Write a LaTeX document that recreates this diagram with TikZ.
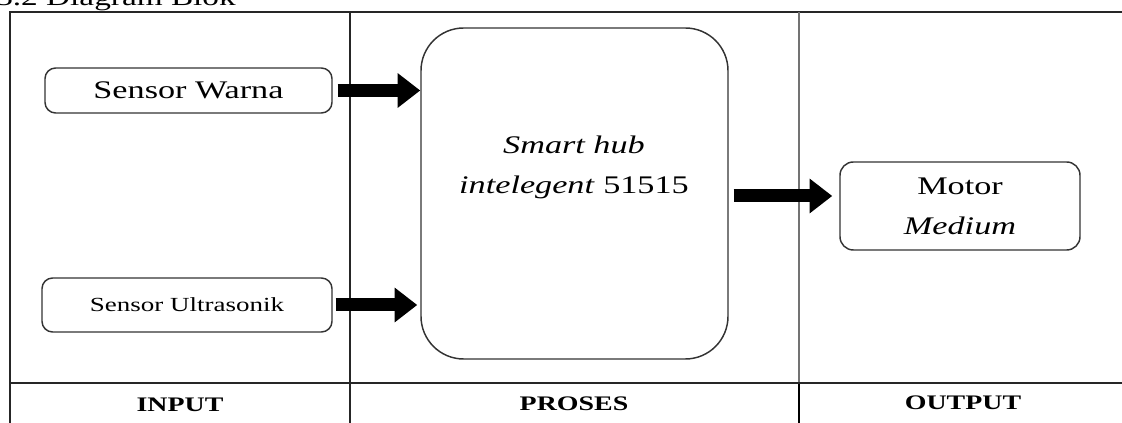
\documentclass[tikz,border=0pt]{standalone}
\usepackage{fontspec}
\setmainfont[FakeStretch=1.35]{Liberation Serif}
\usetikzlibrary{arrows.meta,calc}
\begin{document}
\begin{tikzpicture}[x=0.75pt,y=-0.75pt,
  frameline/.style={line width=1.3pt,draw=black!85},
  grayline/.style={line width=1.8pt,draw=black!55},
  rbox/.style={draw=black!80,line width=1.1pt,rounded corners=8pt,align=center,inner sep=0pt},
  bigtxt/.style={font=\fontsize{19}{30}\selectfont},
  headtxt/.style={font=\fontsize{15.5}{18}\selectfont\bfseries},
  bigarrow/.style={line width=9.75pt,-{Triangle[length=17pt,width=25pt]}}]
\useasboundingbox (0,0) rectangle (1122,423);
% title (partly cut off at the top, as in the reference)
\node[anchor=base west,inner sep=0pt,font=\fontsize{18.5}{20}\selectfont] (title) at (-4,6) {3.2 Diagram Blok};
% table frame
\draw[frameline] (10,430) -- (10,12) -- (1135,12);
\draw[frameline] (350,12) -- (350,430);
\draw[grayline] (799,12) -- (799,383);
\draw[line width=1.8pt] (799,383) -- (799,430);
\draw[frameline] (10,383) -- (1135,383);
% headers
\node[headtxt] (hin) at (180,405) {INPUT};
\node[headtxt] (hpr) at (574,404) {PROSES};
\node[headtxt] (hout) at (963,403) {OUTPUT};
% boxes
\node[rbox,bigtxt,minimum width=215.25pt,minimum height=33.75pt] (sw) at (188.5,90.5) {Sensor Warna};
\node[rbox,font=\fontsize{15}{18}\selectfont,minimum width=217.5pt,minimum height=40.5pt] (su) at (187,305) {Sensor Ultrasonik};
\node[rbox,rounded corners=32pt,minimum width=230.25pt,minimum height=248.25pt] (hub) at (574.5,193.5) {};
\node[bigtxt,align=center] (hubtxt) at (574,167) {\textit{Smart hub}\\\textit{intelegent} 51515};
\node[rbox,bigtxt,rounded corners=10pt,minimum width=180pt,minimum height=66pt] (motor) at (960,206) {Motor\\\textit{Medium}};
% arrows
\draw[bigarrow,shorten <=3.75pt] (sw.east) -- (hub.west |- sw.east);
\draw[bigarrow,shorten <=2.25pt,shorten >=2.25pt] (su.east) -- (hub.west |- su.east);
\coordinate (a3) at ($(hub.east)+(5,2.5)$);
\draw[bigarrow,shorten >=5.25pt] (a3) -- (motor.west |- a3);
\end{tikzpicture}
\end{document}
